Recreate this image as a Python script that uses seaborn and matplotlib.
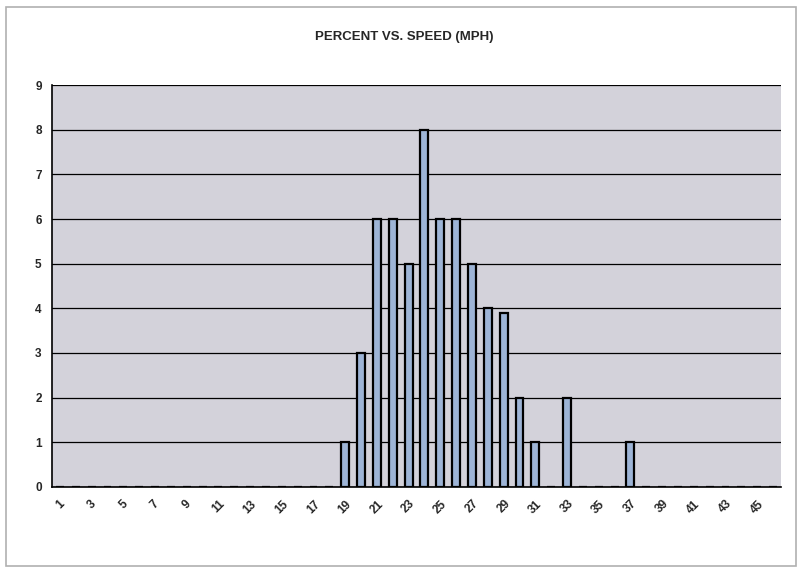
import numpy as np
import pandas as pd
import matplotlib
matplotlib.use("Agg")
import matplotlib.pyplot as plt
from matplotlib.patches import Rectangle
import seaborn as sns

# speed categories (mph) and percent of vehicles
speeds = list(range(1, 47))
bar_speeds = [19, 20, 21, 22, 23, 24, 25, 26, 27, 28, 29, 30, 31, 33, 37]
bar_percent = [1, 3, 6, 6, 5, 8, 6, 6, 5, 4, 3.9, 2, 1, 2, 1]
y_ticks = list(range(0, 10))
title = "PERCENT VS. SPEED (MPH)"

lookup = dict(zip(bar_speeds, bar_percent))
df = pd.DataFrame({
    "speed": [str(s) for s in speeds],
    "percent": [lookup.get(s, 0) for s in speeds],
})

sns.set_style("white")
plt.rcParams["font.family"] = ["Liberation Sans", "DejaVu Sans"]

fig = plt.figure(figsize=(8.01, 5.72), dpi=100)
ax = fig.add_axes([0.065, 0.149, 0.91, 0.702])
ax.set_facecolor("#d3d2da")

sns.barplot(data=df, x="speed", y="percent", order=df["speed"], ax=ax,
            color="#9db4d6", edgecolor="black", linewidth=1.6, width=0.5,
            saturation=1)

ax.set_ylim(0, 9)
ax.set_yticks(y_ticks)
ax.set_yticklabels([str(t) for t in y_ticks], fontsize=8.5, fontweight="bold")
ax.yaxis.grid(True, color="black", linewidth=0.9)
ax.set_axisbelow(True)

ax.set_xlim(-0.5, len(speeds) - 0.5)
ax.set_xticks(range(len(speeds)))
ax.set_xticklabels([s if int(s) % 2 == 1 else "" for s in df["speed"]],
                   rotation=45, fontsize=8.5, fontweight="bold")
ax.tick_params(axis="both", length=4, width=1, color="black", direction="out")
ax.tick_params(axis="x", pad=4)
ax.set_xlabel("")
ax.set_ylabel("")

for side in ["top", "right"]:
    ax.spines[side].set_visible(False)
for side in ["left", "bottom"]:
    ax.spines[side].set_color("black")
    ax.spines[side].set_linewidth(1.2)

fig.text(0.505, 0.935, title, ha="center", va="center", fontsize=9.5,
         fontweight="bold")

# outer chart frame
fig.patches.append(Rectangle((0.008, 0.01), 0.986, 0.978, transform=fig.transFigure,
                             fill=False, edgecolor="#b0b0b0", linewidth=1.2))

fig.savefig("out.png", dpi=100)
